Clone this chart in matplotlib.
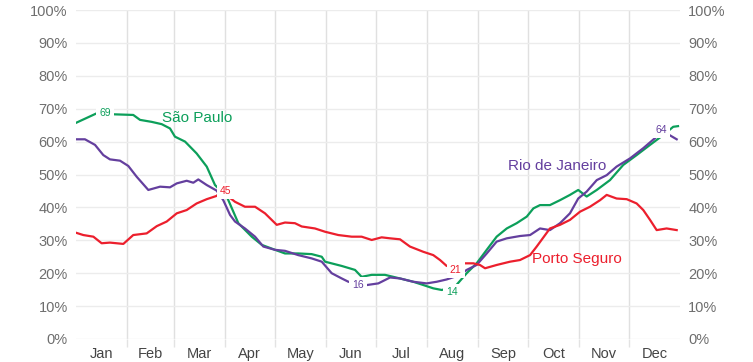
import matplotlib
matplotlib.use("Agg")
import matplotlib.pyplot as plt

plt.rcParams['font.family'] = ['Liberation Sans', 'DejaVu Sans']

months = ["Jan", "Feb", "Mar", "Apr", "May", "Jun", "Jul", "Aug", "Sep", "Oct", "Nov", "Dec"]
month_starts = [0, 31, 59, 90, 120, 151, 181, 212, 243, 273, 304, 334, 365]

sp_days = [0, 12.5, 22.5, 34.6, 38.7, 45.7, 51.8, 56.8, 59.8, 65.9, 72.9, 79.0, 84.0, 91.1, 98.1,
           106.2, 112.3, 120.3, 126.3, 134.3, 142.4, 148.5, 150.5, 160.6, 168.6, 172.6, 178.7, 186.7,
           191.7, 195.8, 203.8, 209.9, 215.9, 221.0, 229.0, 236.1, 242.1, 248.2, 254.2, 260.3, 266.3,
           272.4, 276.4, 280.4, 286.4, 292.5, 298.5, 303.5, 308.6, 314.7, 322.7, 330.7, 338.8, 346.9,
           354.9, 360.9, 363.8]
sp_vals = [65.7, 68.6, 68.3, 68.1, 66.6, 66.0, 65.3, 64.0, 61.5, 60.0, 56.4, 52.4, 46.8, 43.3, 35.2,
           31.1, 28.6, 27.1, 26.0, 26.0, 25.8, 25.0, 23.5, 22.2, 21.0, 18.9, 19.5, 19.5,
           18.9, 18.4, 17.4, 16.4, 15.4, 14.9, 15.9, 20.0, 23.0, 27.1, 31.1, 33.6, 35.2,
           37.2, 39.7, 40.7, 40.7, 42.2, 43.8, 45.3, 43.3, 45.3, 48.3, 52.9, 55.9, 59.0,
           62.0, 64.5, 64.7]

rj_days = [0, 5.4, 11.5, 16.5, 20.5, 26.6, 31.6, 36.7, 43.7, 50.8, 56.8, 60.9, 66.9, 70.9, 73.9,
           79.0, 85.0, 89.0, 93.1, 96.1, 102.1, 108.2, 113.2, 120.3, 126.3, 134.3, 142.4, 148.5,
           154.5, 160.6, 164.6, 175.7, 182.7, 189.8, 195.8, 203.8, 211.9, 218.0, 224.0, 232.1,
           236.1, 242.1, 248.2, 254.2, 260.3, 268.3, 274.4, 280.4, 286.4, 292.5, 298.5, 303.5,
           308.6, 314.7, 320.7, 326.7, 334.8, 342.8, 350.9, 356.9, 363.0]
rj_vals = [60.7, 60.7, 59.0, 55.9, 54.6, 54.2, 52.6, 49.3, 45.3, 46.3, 46.1, 47.3, 48.1, 47.5, 48.5,
           46.8, 45.1, 42.2, 37.7, 35.7, 33.6, 31.1, 28.1, 27.1, 26.8, 25.5, 24.5, 23.5,
           20.0, 18.4, 17.4, 16.4, 16.9, 18.7, 18.4, 17.4, 16.9, 17.4, 18.1, 19.5,
           21.0, 22.5, 26.0, 29.6, 30.6, 31.3, 31.6, 33.6, 33.1, 35.2, 38.2, 42.7,
           44.8, 48.3, 49.8, 52.4, 54.9, 58.0, 61.5, 62.5, 60.7]

ps_days = [0, 4.4, 10.5, 15.5, 20.5, 28.6, 34.6, 42.7, 48.8, 54.8, 60.9, 66.9, 72.9, 79.0, 85.0,
           87.6, 92.0, 96.1, 102.1, 108.2, 114.2, 121.3, 126.3, 132.3, 136.4, 144.4, 150.5, 158.5,
           166.6, 172.6, 178.7, 184.7, 189.8, 195.8, 201.8, 209.9, 215.9, 220.0, 224.0, 234.0,
           240.1, 244.1, 247.2, 254.2, 262.3, 268.3, 274.4, 278.4, 286.4, 292.5, 298.5, 304.6,
           310.6, 316.7, 320.7, 326.7, 332.8, 338.8, 342.8, 346.9, 350.9, 356.9, 363.0]
ps_vals = [32.3, 31.6, 31.1, 29.1, 29.3, 28.9, 31.6, 32.1, 34.3, 35.7, 38.2, 39.2, 41.2, 42.5, 43.5,
           44.8, 43.3, 41.7, 40.2, 40.2, 38.2, 34.7, 35.4, 35.2, 34.2, 33.6, 32.6, 31.6,
           31.1, 31.1, 30.1, 30.9, 30.6, 30.3, 28.1, 26.5, 25.5, 24.0, 22.2, 23.0,
           23.0, 22.5, 21.5, 22.5, 23.5, 24.0, 25.5, 28.1, 33.6, 34.7, 36.2, 38.7,
           40.2, 42.2, 43.8, 42.7, 42.5, 41.2, 39.2, 36.2, 33.1, 33.6, 33.1]

GREEN = "#0c9f5a"
PURPLE = "#643f9e"
RED = "#ec1f2d"

fig = plt.figure(figsize=(7.53, 3.62), dpi=100)
ax = fig.add_axes([76/753, 1 - 339/362, 604/753, 329/362])

ax.plot(sp_days, sp_vals, color=GREEN, lw=1.6, zorder=3)
ax.plot(rj_days, rj_vals, color=PURPLE, lw=1.6, zorder=3)
ax.plot(ps_days, ps_vals, color=RED, lw=1.6, zorder=3)

ax.set_xlim(0, 365)
ax.set_ylim(0, 100)

yt = list(range(0, 101, 10))
ax.set_yticks(yt)
ax.set_yticklabels([f"{v}%" for v in yt])
ax.set_xticks(month_starts[1:-1])
ax.set_xticklabels([])
centers = [(month_starts[i] + month_starts[i + 1]) / 2 for i in range(12)]
ax.set_xticks(centers, minor=True)
ax.set_xticklabels(months, minor=True)

ax.tick_params(axis='y', which='both', length=0, pad=6, labelsize=10.5, labelcolor='#6e6e6e',
               labelleft=True, labelright=True)
ax.tick_params(axis='x', which='major', length=6, color='#e3e3e3', width=1)
ax.tick_params(axis='x', which='minor', length=0, pad=6, labelsize=10.5, labelcolor='#444444')

ax.grid(axis='y', color='#ececec', lw=1, zorder=0)
ax.grid(axis='x', which='major', color='#e0e0e0', lw=1, zorder=0)
for s in ax.spines.values():
    s.set_visible(False)

box = dict(facecolor='white', edgecolor='none', pad=2.2)
small = 7.5
ax.text(17.5, 68.7, "69", color=GREEN, fontsize=small, ha='center', va='center', bbox=box, zorder=4)
ax.text(90.6, 45.0, "45", color=RED, fontsize=small, ha='center', va='center', bbox=box, zorder=4)
ax.text(170.4, 16.4, "16", color=PURPLE, fontsize=small, ha='center', va='center', bbox=box, zorder=4)
ax.text(229.5, 21.0, "21", color=RED, fontsize=small, ha='center', va='center', bbox=box, zorder=4)
ax.text(227.0, 14.3, "14", color=GREEN, fontsize=small, ha='center', va='center', bbox=box, zorder=4)
ax.text(353.5, 63.6, "64", color=PURPLE, fontsize=small, ha='center', va='center', bbox=box, zorder=4)

ax.text(52.0, 67.2, "São Paulo", color=GREEN, fontsize=11, ha='left', va='center', zorder=5)
ax.text(261.0, 52.5, "Rio de Janeiro", color=PURPLE, fontsize=11, ha='left', va='center', zorder=5)
ax.text(275.5, 24.2, "Porto Seguro", color=RED, fontsize=11, ha='left', va='center', zorder=5)

fig.savefig("out.png", dpi=100)
